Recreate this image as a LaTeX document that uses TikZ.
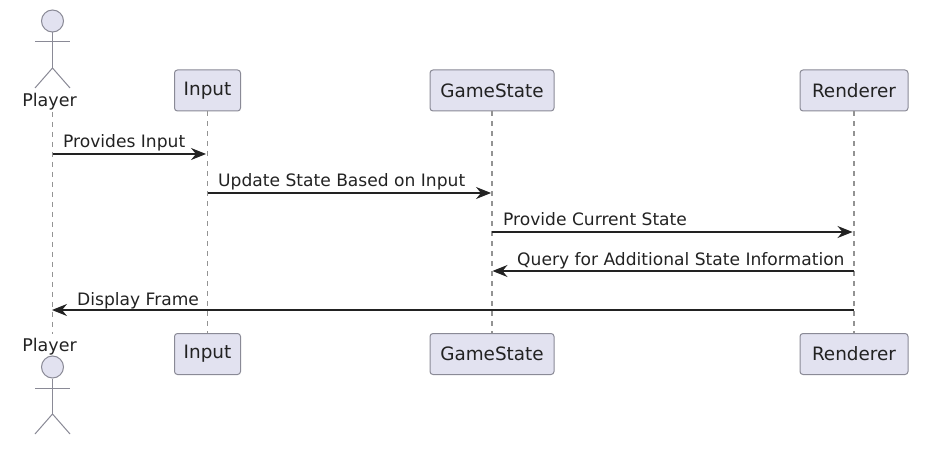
\documentclass[tikz,border=0pt]{standalone}
\usepackage{fontspec}
\setmainfont{DejaVu Sans}
\usetikzlibrary{arrows.meta}
\definecolor{boxFill}{HTML}{E2E2F0}
\definecolor{boxLine}{HTML}{8A8A96}
\definecolor{darkText}{HTML}{222222}

\begin{document}
\begin{tikzpicture}
[x=1pt,y=-1pt,%
  msgArrow/.style={-{Stealth[length=15pt,width=12pt,inset=5pt]},line width=1.1pt,color=darkText},%
  lifeLine/.style={dashed,dash pattern=on 5pt off 5pt,line width=1.1pt,color=gray!85},%
  actorLine/.style={line width=1pt,color=boxLine},%
  headDecorate/.style={shape=circle,inner sep=0pt,minimum size=22pt,draw=boxLine,fill=boxFill,line width=1pt},%
  boxDecorate/.style={shape=rectangle,rounded corners=3pt,draw=boxLine,fill=boxFill,line width=1pt,minimum height=41pt,inner sep=0pt,text=darkText,font=\fontsize{18.4}{20}\selectfont},%
  nameDecorate/.style={inner sep=0pt,text=darkText,font=\fontsize{17.5}{20}\selectfont},%
  msgLabel/.style={anchor=base west,inner sep=0pt,text=darkText,font=\fontsize{17.1}{19}\selectfont}]
\useasboundingbox (0,0) rectangle (927,449);
%% lifelines first, boxes go over them
\coordinate (playerTop) at (52.5,112);
\coordinate (playerEnd) at (52.5,334);
\foreach \nodename/\label/\x/\w in {input/Input/207.5/66, state/GameState/492/124, render/Renderer/854/108}
{
  \node (\nodename Top) at (\x,90.5) [boxDecorate,minimum width=\w pt] {\raisebox{-1pt}{\label}};
  \node (\nodename End) at (\x,354) [boxDecorate,minimum width=\w pt] {\raisebox{-1pt}{\label}};
}
\foreach \startnode/\endnode in {playerTop/playerEnd, inputTop.south/inputEnd.north, stateTop.south/stateEnd.north, renderTop.south/renderEnd.north}
{
  \draw[lifeLine] (\startnode) -- (\endnode);
}
%% actor at the top and at the bottom
\foreach \nodename/\headY/\nameY in {topActor/21/101.5, endActor/367/346.5}
{
  \node (\nodename) at (52.5,\headY) [headDecorate] {};
  \coordinate (\nodename Hip) at (52.5,\headY+47);
  \coordinate (\nodename ArmL) at (35,\headY+21);
  \coordinate (\nodename ArmR) at (70,\headY+21);
  \coordinate (\nodename LegL) at (35,\headY+67);
  \coordinate (\nodename LegR) at (70,\headY+67);
  \draw[actorLine] (\nodename.south) -- (\nodename Hip);
  \draw[actorLine] (\nodename ArmL) -- (\nodename ArmR);
  \draw[actorLine] (\nodename LegL) -- (\nodename Hip) -- (\nodename LegR);
  \node (\nodename Name) at (49.5,\nameY) [nameDecorate] {Player};
}
%% message ends on the lifelines
\foreach \nodename/\x/\y in {a1/52.5/154, a2/206/154, b1/207.5/193, b2/491/193, c1/492/232, c2/852.5/232, d1/854/271, d2/492.5/271, e1/854/310, e2/52/310}
{
  \coordinate (\nodename) at (\x,\y);
}
\foreach \startnode/\endnode in {a1/a2, b1/b2, c1/c2, d1/d2, e1/e2}
{
  \draw[msgArrow] (\startnode) -- (\endnode);
}
%% message texts
\foreach \nodename/\x/\y/\label in {la/63/147.5/Provides Input, lb/218/186.5/Update State Based on Input, lc/503/225.5/Provide Current State, ld/517/265.5/Query for Additional State Information, le/77/305.5/Display Frame}
{
  \node (\nodename) at (\x,\y) [msgLabel] {\label};
}
\end{tikzpicture}
\end{document}
